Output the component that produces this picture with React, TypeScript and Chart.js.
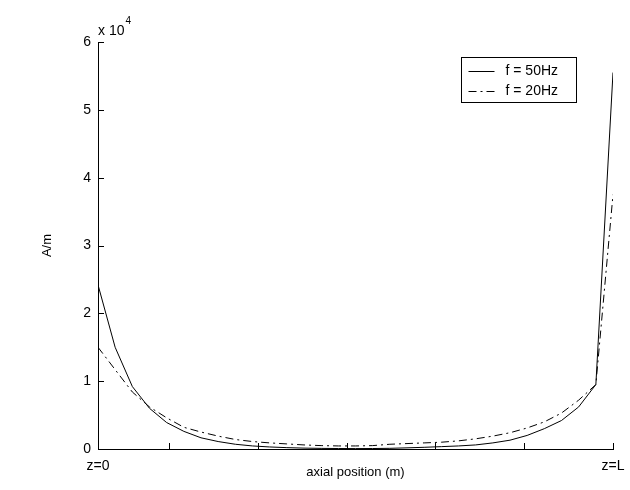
import React, { useEffect, useRef } from 'react';
import { Chart, registerables } from 'chart.js';

Chart.register(...registerables);

const FONT = '"Liberation Sans", Arial, Helvetica, sans-serif';

// axial sample positions (arbitrary axis units, z=0 at 0.2, z=L at 6)
const positions = [
  0.2, 0.393, 0.587, 0.78, 0.973, 1.167, 1.36, 1.553, 1.747, 1.94, 2.133,
  2.327, 2.52, 2.713, 2.907, 3.1, 3.293, 3.487, 3.68, 3.873, 4.067,
  4.26, 4.453, 4.647, 4.84, 5.033, 5.227, 5.42, 5.613, 5.807, 6.0,
];

// A/m
const field50Hz = [
  24200, 15000, 9200, 6000, 3900, 2600, 1650, 1100, 700, 450, 300,
  200, 130, 90, 70, 60, 70, 100, 170, 250, 350,
  450, 600, 900, 1300, 2000, 3000, 4200, 6200, 9500, 55500,
];

const field20Hz = [
  15000, 11700, 8400, 6200, 4600, 3200, 2500, 1900, 1400, 1100, 900,
  750, 600, 500, 450, 450, 500, 700, 800, 900, 1000,
  1200, 1500, 1900, 2400, 3100, 4000, 5300, 7200, 9500, 37500,
];

const seriesLabels = ['f = 50Hz', 'f = 20Hz'];
const xTickValues = [0.2, 1, 2, 3, 4, 5, 6];
const xTickLabels: Record<string, string> = { '0.2': 'z=0', '6': 'z=L' };
const yTickValues = [0, 10000, 20000, 30000, 40000, 50000, 60000];

const decorPlugin = {
  id: 'decor',
  afterDraw(chart: any) {
    const { ctx, chartArea, scales } = chart;
    const xs = scales.x;
    const ys = scales.y;
    ctx.save();
    ctx.strokeStyle = '#000';
    ctx.lineWidth = 1;
    ctx.setLineDash([]);
    // inward tick marks
    xs.ticks.forEach((t: any) => {
      const px = Math.round(xs.getPixelForValue(t.value)) + 0.5;
      ctx.beginPath();
      ctx.moveTo(px, chartArea.bottom);
      ctx.lineTo(px, chartArea.bottom - 6);
      ctx.stroke();
    });
    ys.ticks.forEach((t: any) => {
      const py = Math.round(ys.getPixelForValue(t.value)) + 0.5;
      ctx.beginPath();
      ctx.moveTo(chartArea.left, py);
      ctx.lineTo(chartArea.left + 6, py);
      ctx.stroke();
    });
    // exponent label
    ctx.fillStyle = '#000';
    ctx.textAlign = 'left';
    ctx.textBaseline = 'alphabetic';
    ctx.font = `14px ${FONT}`;
    ctx.fillText('x 10', chartArea.left, chartArea.top - 7);
    const w = ctx.measureText('x 10').width;
    ctx.font = `10px ${FONT}`;
    ctx.fillText('4', chartArea.left + w + 1, chartArea.top - 18);
    // legend box
    const bw = 115;
    const bh = 45;
    const bx = Math.round(chartArea.right - 37 - bw) + 0.5;
    const by = Math.round(chartArea.top + 15) + 0.5;
    ctx.fillStyle = '#fff';
    ctx.fillRect(bx, by, bw, bh);
    ctx.strokeRect(bx, by, bw, bh);
    chart.data.datasets.forEach((ds: any, i: number) => {
      const ry = Math.round(by + 13 + i * 20) + 0.5;
      ctx.setLineDash(ds.borderDash || []);
      ctx.beginPath();
      ctx.moveTo(bx + 7, ry);
      ctx.lineTo(bx + 33, ry);
      ctx.stroke();
      ctx.setLineDash([]);
      ctx.fillStyle = '#000';
      ctx.font = `14px ${FONT}`;
      ctx.textBaseline = 'middle';
      ctx.fillText(ds.label, bx + 44, ry);
    });
    ctx.restore();
  },
};

export default function App() {
  const ref = useRef<HTMLCanvasElement | null>(null);
  useEffect(() => {
    if (!ref.current) return;
    Chart.defaults.font.family = FONT;
    const chart = new Chart(ref.current, {
      type: 'line',
      data: {
        datasets: [
          {
            label: seriesLabels[0],
            data: positions.map((x, i) => ({ x, y: field50Hz[i] })),
            borderColor: '#000',
            borderWidth: 1,
            pointRadius: 0,
            tension: 0,
            fill: false,
          },
          {
            label: seriesLabels[1],
            data: positions.map((x, i) => ({ x, y: field20Hz[i] })),
            borderColor: '#000',
            borderWidth: 1,
            borderDash: [8, 4, 2, 4],
            pointRadius: 0,
            tension: 0,
            fill: false,
          },
        ],
      },
      options: {
        animation: false,
        responsive: true,
        maintainAspectRatio: false,
        layout: { padding: { top: 42, right: 17, left: 0, bottom: 0 } },
        plugins: { legend: { display: false }, tooltip: { enabled: false } },
        scales: {
          x: {
            type: 'linear',
            min: 0.2,
            max: 6,
            afterBuildTicks: (s: any) => {
              s.ticks = xTickValues.map((v) => ({ value: v }));
            },
            afterFit: (s: any) => {
              s.height = 41;
              s.paddingLeft = 0;
              s.paddingRight = 0;
            },
            grid: { display: false, drawTicks: false },
            border: { display: true, color: '#000', width: 1 },
            ticks: {
              autoSkip: false,
              maxRotation: 0,
              padding: 9,
              color: '#000',
              font: { size: 14, family: FONT },
              callback: (v: any) => xTickLabels[String(v)] ?? '',
            },
            title: {
              display: true,
              text: 'axial position (m)',
              color: '#000',
              font: { size: 13, family: FONT },
              padding: { top: 0, bottom: 10 },
            },
          },
          y: {
            type: 'linear',
            min: 0,
            max: 60000,
            afterBuildTicks: (s: any) => {
              s.ticks = yTickValues.map((v) => ({ value: v }));
            },
            afterFit: (s: any) => {
              s.width = 98;
              s.paddingTop = 0;
              s.paddingBottom = 0;
            },
            grid: { display: false, drawTicks: false },
            border: { display: true, color: '#000', width: 1 },
            ticks: {
              padding: 7,
              color: '#000',
              font: { size: 14, family: FONT },
              callback: (v: any) => String(Number(v) / 10000),
            },
            title: {
              display: true,
              text: 'A/m',
              color: '#000',
              font: { size: 13, family: FONT },
              padding: { top: 40, bottom: 0 },
            },
          },
        },
      },
      plugins: [decorPlugin],
    } as any);
    return () => chart.destroy();
  }, []);
  return (
    <div style={{ position: 'fixed', left: 0, top: 0, width: 630, height: 490, background: '#fff' }}>
      <canvas ref={ref} />
    </div>
  );
}
